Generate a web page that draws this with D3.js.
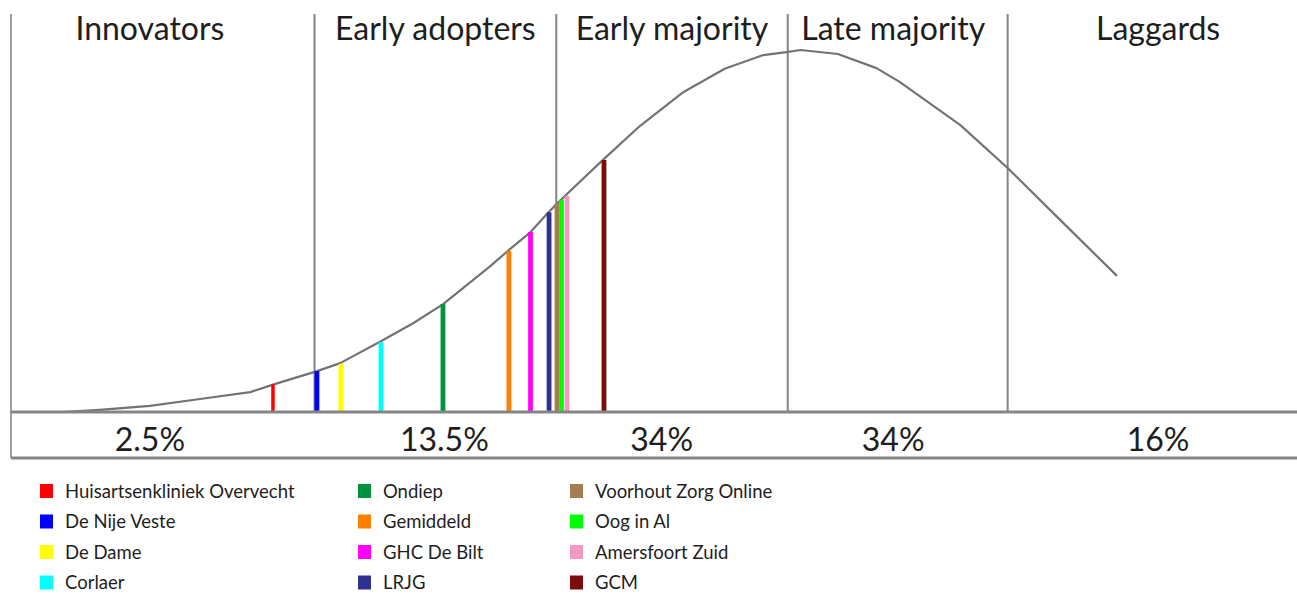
<!DOCTYPE html>
<html>
<head>
<meta charset="utf-8">
<script src="https://cdn.jsdelivr.net/npm/d3@7/dist/d3.min.js"></script>
<style>
  html, body { margin: 0; padding: 0; background: #fff; }
  svg { display: block; }
  text { font-family: Lato, "Open Sans", sans-serif; fill: #1e1e1e; }
</style>
</head>
<body>
<svg id="chart" width="1297" height="595"></svg>
<script>
// Adoption segments: header label, share label, label centre (position units)
const segmentNames  = ["Innovators", "Early adopters", "Early majority", "Late majority", "Laggards"];
const segmentShares = ["2.5%", "13.5%", "34%", "34%", "16%"];
const headerPos     = [10.8, 33.0, 51.4, 68.6, 89.2];
const sharePos      = [10.8, 33.7, 50.6, 68.6, 89.2];

// Segment boundaries on the position axis
const boundaries = [23.6, 42.4, 60.4, 77.5];

// Adoption curve (position, relative height 0-100)
const curveX = [4.0, 6.9, 10.8, 14.7, 18.6, 20.5, 23.8, 25.6, 28.8, 31.3, 33.6, 37.2, 38.8, 40.4, 41.8, 42.5, 44.5, 46.2, 48.9, 52.3, 55.5, 58.5, 60.3, 61.4, 64.3, 67.3, 69.1, 73.8, 77.5, 81.6, 86.0];
const curveY = [0.0, 0.6, 1.7, 3.6, 5.5, 7.7, 11.3, 13.5, 19.6, 24.6, 29.8, 40.1, 45.0, 49.7, 55.2, 57.7, 64.5, 70.2, 79.0, 88.4, 94.8, 98.6, 99.4, 100.0, 98.9, 95.0, 91.2, 79.3, 67.4, 53.0, 37.6];

// Practices placed on the curve
const practices = ["Huisartsenkliniek Overvecht", "De Nije Veste", "De Dame", "Corlaer", "Ondiep", "Gemiddeld", "GHC De Bilt", "LRJG", "Voorhout Zorg Online", "Oog in Al", "Amersfoort Zuid", "GCM"];
const practicePos    = [20.37, 23.79, 25.66, 28.77, 33.59, 38.72, 40.40, 41.84, 42.46, 42.81, 43.23, 46.11];
const practiceHeight = [7.7, 11.3, 13.3, 19.3, 29.8, 44.5, 49.7, 55.2, 57.7, 58.6, 59.7, 69.6];
const practiceColors = ["#ff0000", "#0000ff", "#ffff00", "#00ffff", "#00923f", "#ff7f00", "#ff00ff", "#2e3192", "#a67c52", "#00ff00", "#f49ac1", "#7a0c0c"];

const svg = d3.select("#chart");
const W = 1297;

const x = d3.scaleLinear().domain([0, 100]).range([11, W]);
const y = d3.scaleLinear().domain([0, 100]).range([412, 50]);

const baseY = y(0), bandBottom = 458, topY = 14;
const lineColor = "#858585";

// frame: left edge
svg.append("line")
  .attr("x1", x(0)).attr("x2", x(0)).attr("y1", topY).attr("y2", bandBottom)
  .attr("stroke", lineColor).attr("stroke-width", 1.6);

// segment dividers
svg.append("g").selectAll("line").data(boundaries).join("line")
  .attr("x1", d => x(d)).attr("x2", d => x(d))
  .attr("y1", topY).attr("y2", baseY)
  .attr("stroke", lineColor).attr("stroke-width", 2);

// adoption curve, drawn as a polyline through the sampled points
const pts = curveX.map((v, i) => [v, curveY[i]]);
svg.append("path")
  .datum(pts)
  .attr("d", d3.line().x(d => x(d[0])).y(d => y(d[1])).curve(d3.curveLinear))
  .attr("fill", "none")
  .attr("stroke", "#737373")
  .attr("stroke-width", 2.2)
  .attr("stroke-linejoin", "round");

// practice bars
svg.append("g").selectAll("line").data(practices).join("line")
  .attr("x1", (d, i) => x(practicePos[i])).attr("x2", (d, i) => x(practicePos[i]))
  .attr("y1", baseY).attr("y2", (d, i) => y(practiceHeight[i]))
  .attr("stroke", (d, i) => practiceColors[i])
  .attr("stroke-width", (d, i) => i === 0 ? 3.5 : 4.8);

// baseline and bottom of the share band
[baseY, bandBottom].forEach(yy => {
  svg.append("line")
    .attr("x1", x(0)).attr("x2", W).attr("y1", yy).attr("y2", yy)
    .attr("stroke", lineColor).attr("stroke-width", 3);
});

// segment headers
svg.append("g").selectAll("text").data(segmentNames).join("text")
  .attr("x", (d, i) => x(headerPos[i]))
  .attr("y", 40)
  .attr("text-anchor", "middle")
  .style("font-size", "32px")
  .text(d => d);

// share labels
svg.append("g").selectAll("text").data(segmentShares).join("text")
  .attr("x", (d, i) => x(sharePos[i]))
  .attr("y", 451)
  .attr("text-anchor", "middle")
  .style("font-size", "32px")
  .text(d => d);

// legend: three columns of four
const colX = [40, 358, 570];
const legend = svg.append("g").selectAll("g").data(practices).join("g")
  .attr("transform", (d, i) => `translate(${colX[Math.floor(i / 4)]},${491 + (i % 4) * 30.5})`);
legend.append("rect")
  .attr("x", 0).attr("y", -7).attr("width", 13).attr("height", 14)
  .attr("fill", (d, i) => practiceColors[i]);
legend.append("text")
  .attr("x", 25).attr("y", 6.5)
  .style("font-size", "18.5px")
  .text(d => d);
</script>
</body>
</html>
